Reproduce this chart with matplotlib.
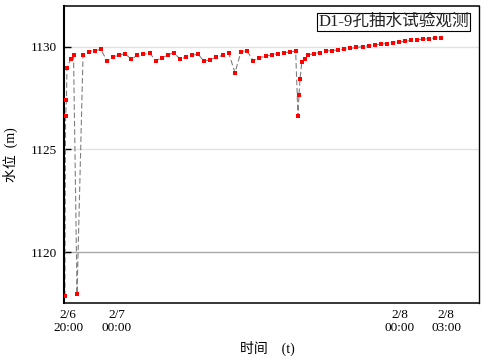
import matplotlib
matplotlib.use('Agg')
import matplotlib.pyplot as plt

plt.rcParams['font.family'] = ['Liberation Serif', 'Noto Sans CJK SC', 'DejaVu Sans']
plt.rcParams['axes.unicode_minus'] = False

# time in hours after 2/6 20:00
hours = [-0.26, -0.20, -0.13, -0.09, 0.22, 0.45, 0.74, 1.23, 1.72, 2.21,
         2.70, 3.20, 3.69, 4.18, 4.67, 5.19, 5.68, 6.17, 6.70, 7.19,
         7.68, 8.17, 8.66, 9.18, 9.67, 10.16, 10.66, 11.15, 11.64, 12.17,
         12.68, 13.17, 13.69, 14.18, 14.67, 15.18, 15.68, 16.19, 16.70, 17.19,
         17.68, 18.17, 18.66, 18.85, 18.93, 19.02, 19.16, 19.40, 19.67, 20.14,
         20.63, 21.12, 21.61, 22.16, 22.65, 23.14, 23.63, 24.16, 24.65, 25.14,
         25.63, 26.12, 26.61, 27.13, 27.62, 28.11, 28.61, 29.10, 29.59, 30.08,
         30.60]
# water level (m)
level = [1117.85, 1126.63, 1127.39, 1128.96, 1129.42, 1129.59, 1117.96, 1129.61, 1129.77, 1129.82,
         1129.87, 1129.30, 1129.51, 1129.59, 1129.67, 1129.40, 1129.58, 1129.64, 1129.69, 1129.33,
         1129.45, 1129.59, 1129.72, 1129.40, 1129.50, 1129.59, 1129.64, 1129.29, 1129.38, 1129.48,
         1129.59, 1129.69, 1128.74, 1129.77, 1129.80, 1129.33, 1129.47, 1129.54, 1129.61, 1129.67,
         1129.71, 1129.74, 1129.79, 1126.63, 1127.65, 1128.42, 1129.25, 1129.40, 1129.59, 1129.67,
         1129.72, 1129.79, 1129.82, 1129.85, 1129.88, 1129.92, 1129.97, 1130.01, 1130.05, 1130.10,
         1130.13, 1130.16, 1130.21, 1130.24, 1130.27, 1130.31, 1130.34, 1130.37, 1130.40, 1130.42,
         1130.44]

xtick_pos = [0, 4, 27.2, 31.0]
xtick_labels = ['2/6\n20:00', '2/7\n00:00', '2/8\n00:00', '2/8\n03:00']
ytick_pos = [1120, 1125, 1130]

fig = plt.figure(figsize=(4.86, 3.61), dpi=100)
ax = fig.add_axes([0.1317, 0.1598, 0.8539, 0.8242])

# grid lines
ax.axhline(1130, color='#e2e2e2', lw=1.0, zorder=0)
ax.axhline(1125, color='#e2e2e2', lw=1.0, zorder=0)
ax.axhline(1120, color='#a8a8a8', lw=1.0, zorder=0)

ax.plot(hours, level, color='#808080', lw=0.8, ls=(0, (5, 2.5)), zorder=2)
ax.plot(hours, level, ls='none', marker='s', ms=3.4, color='red',
        markeredgewidth=0, zorder=3)

ax.set_xlim(-0.33, 33.69)
ax.set_ylim(1117.5, 1132)

ax.set_yticks(ytick_pos)
ax.set_yticklabels([str(v) for v in ytick_pos])
ax.set_xticks(xtick_pos)
ax.set_xticklabels(xtick_labels, linespacing=1.1)
ax.tick_params(axis='y', direction='in', length=5, width=1, labelsize=9.5, pad=5)
ax.tick_params(axis='x', length=0, labelsize=9.5, pad=4)

for side, w in [('left', 1.5), ('top', 1.1), ('right', 1.0), ('bottom', 1.1)]:
    ax.spines[side].set_linewidth(w)
    ax.spines[side].set_color('black')

ax.set_ylabel('水位  (m)', fontsize=10, labelpad=9)
ax.set_xlabel('时间\u3000(t)', fontsize=10, labelpad=4)
ax.xaxis.set_label_coords(0.49, -0.125)

ax.text(0.976, 0.972, 'D1-9孔抽水试验观测', transform=ax.transAxes,
        ha='right', va='top', fontsize=12, color='#222222',
        bbox=dict(boxstyle='square,pad=0.06', fc='white', ec='black', lw=0.8))

fig.savefig('out.png', dpi=100)
